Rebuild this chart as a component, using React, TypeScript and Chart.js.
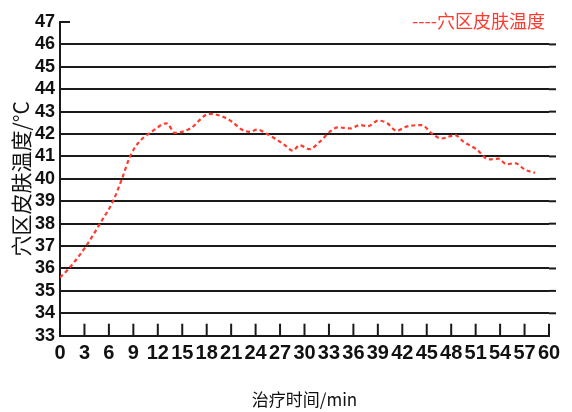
import { useEffect, useRef } from 'react';
import { Chart, registerables } from 'chart.js';

Chart.register(...registerables);

const seriesLabel = '穴区皮肤温度';
const xTitle = '治疗时间/min';
const yTitle = '穴区皮肤温度/°C';

const timeMin = [0, 1.1, 3.2, 4.9, 6.5, 7.6, 8.6, 9.6, 11.25, 13.1, 14.1, 16, 18.3, 19.8, 21.1, 22.3, 23.3, 24.2, 25.4, 26.6, 27.6, 28.55, 29.4, 30.6, 31.9, 33.1, 34.1, 35.6, 36.8, 37.8, 39.05, 40.1, 41.3, 42.5, 44.4, 45.6, 46.8, 48.5, 49.5, 51.1, 52.6, 53.8, 54.8, 55.8, 57.1, 58.3];
const skinTemp = [35.6, 36.0, 37.0, 38.0, 39.0, 40.0, 41.0, 41.6, 42.1, 42.48, 42.05, 42.25, 42.9, 42.8, 42.55, 42.2, 42.1, 42.2, 42.0, 41.75, 41.5, 41.26, 41.5, 41.33, 41.66, 42.1, 42.3, 42.25, 42.4, 42.35, 42.6, 42.5, 42.15, 42.33, 42.4, 42.03, 41.8, 41.95, 41.66, 41.32, 40.87, 40.9, 40.65, 40.7, 40.4, 40.27];

const xTickValues = [0, 3, 6, 9, 12, 15, 18, 21, 24, 27, 30, 33, 36, 39, 42, 45, 48, 51, 54, 57, 60];
const yTickValues = [33, 34, 35, 36, 37, 38, 39, 40, 41, 42, 43, 44, 45, 46, 47];

const lineColor = '#ff3b2f';
const inkColor = '#1a1a1a';
const numFont = "'Liberation Sans Narrow', 'Arial Narrow', 'Liberation Sans', Arial, sans-serif";
const cjkFont = "'Noto Sans CJK SC', 'Noto Sans', sans-serif";

const decor = {
  id: 'decor',
  afterDraw(chart: any) {
    const { ctx, chartArea, scales } = chart;
    const x = scales.x;
    const y = scales.y;
    ctx.save();
    ctx.strokeStyle = inkColor;
    ctx.lineWidth = 2;
    xTickValues.forEach((v) => {
      if (v === xTickValues[0]) return;
      const px = x.getPixelForValue(v);
      ctx.beginPath();
      ctx.moveTo(px, chartArea.bottom);
      ctx.lineTo(px, chartArea.bottom - 12);
      ctx.stroke();
    });
    const top = y.getPixelForValue(yTickValues[yTickValues.length - 1]);
    ctx.beginPath();
    ctx.moveTo(chartArea.left, top);
    ctx.lineTo(chartArea.left + 10, top);
    ctx.stroke();
    yTickValues.slice(1, -1).forEach((v) => {
      const py = y.getPixelForValue(v);
      ctx.beginPath();
      ctx.moveTo(chartArea.right, py);
      ctx.lineTo(chartArea.right + 7, py);
      ctx.stroke();
    });
    ctx.fillStyle = lineColor;
    ctx.font = `18px ${cjkFont}`;
    ctx.textAlign = 'right';
    ctx.textBaseline = 'middle';
    ctx.fillText('----' + seriesLabel, chartArea.right - 4, chartArea.top - 1);
    ctx.restore();
  },
};

export default function App() {
  const ref = useRef<HTMLCanvasElement | null>(null);

  useEffect(() => {
    if (!ref.current) return;
    const chart = new Chart(ref.current, {
      type: 'line',
      data: {
        datasets: [
          {
            label: seriesLabel,
            data: timeMin.map((t, i) => ({ x: t, y: skinTemp[i] })),
            borderColor: lineColor,
            borderWidth: 2.2,
            borderDash: [4, 3],
            pointRadius: 0,
            cubicInterpolationMode: 'monotone',
            fill: false,
          },
        ],
      },
      options: {
        animation: false,
        responsive: true,
        maintainAspectRatio: false,
        layout: { padding: { left: 0, right: 23, top: 22, bottom: 0 } },
        plugins: {
          legend: { display: false },
          tooltip: { enabled: false },
        },
        scales: {
          x: {
            type: 'linear',
            min: 0,
            max: 60,
            afterBuildTicks: (s: any) => {
              s.ticks = xTickValues.map((v) => ({ value: v }));
            },
            afterFit: (s: any) => {
              s.height = 76.3;
            },
            grid: { display: false, drawTicks: false },
            border: { display: true, color: inkColor, width: 2 },
            ticks: {
              autoSkip: false,
              maxRotation: 0,
              padding: 6,
              color: '#111',
              font: { family: numFont, size: 20, weight: 'bold' },
            },
            title: {
              display: true,
              text: xTitle,
              color: '#111',
              font: { family: cjkFont, size: 17 },
              padding: { top: 0, bottom: 2 },
            },
          },
          y: {
            type: 'linear',
            min: 33,
            max: 47,
            afterBuildTicks: (s: any) => {
              s.ticks = yTickValues.map((v) => ({ value: v }));
            },
            afterFit: (s: any) => {
              s.width = 60;
            },
            grid: {
              drawTicks: false,
              lineWidth: 2,
              color: (c: any) => (c.tick && c.tick.value === 47 ? 'rgba(0,0,0,0)' : inkColor),
            },
            border: { display: true, color: inkColor, width: 2 },
            ticks: {
              autoSkip: false,
              padding: 5,
              color: '#111',
              font: { family: numFont, size: 18, weight: 'bold' },
            },
            title: {
              display: true,
              text: yTitle,
              color: '#111',
              font: { family: cjkFont, size: 21 },
              padding: { top: 8, bottom: 0 },
            },
          },
        },
      },
      plugins: [decor],
    });
    return () => chart.destroy();
  }, []);

  return (
    <div style={{ position: 'fixed', left: 0, top: 0, width: 572, height: 412, background: '#fff' }}>
      <canvas ref={ref} />
    </div>
  );
}
